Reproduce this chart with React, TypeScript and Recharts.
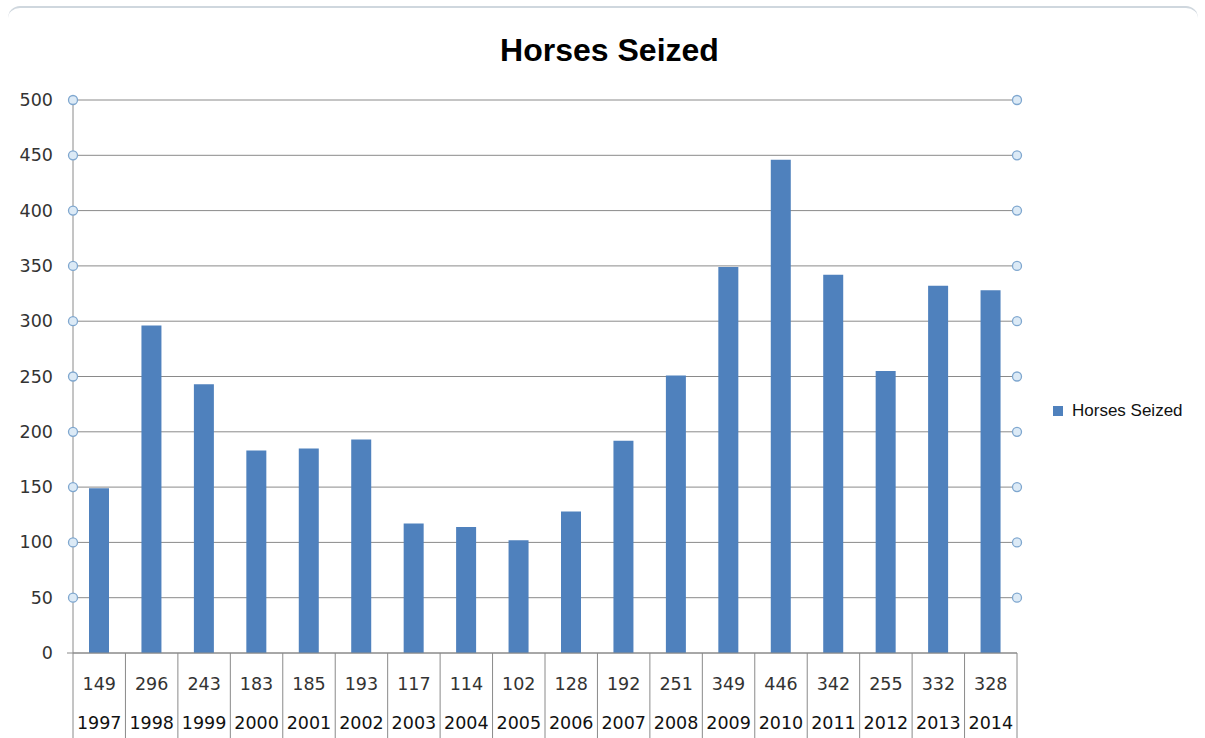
import { Bar, BarChart, CartesianGrid, XAxis, YAxis } from "recharts";

const years = ["1997", "1998", "1999", "2000", "2001", "2002", "2003", "2004", "2005", "2006", "2007", "2008", "2009", "2010", "2011", "2012", "2013", "2014"];
const horsesSeized = [149, 296, 243, 183, 185, 193, 117, 114, 102, 128, 192, 251, 349, 446, 342, 255, 332, 328];
const yTicks = [0, 50, 100, 150, 200, 250, 300, 350, 400, 450, 500];

const data = years.map((year, i) => ({ year, value: horsesSeized[i] }));

const PLOT_LEFT = 73;
const PLOT_RIGHT = 1017;
const CELL = (PLOT_RIGHT - PLOT_LEFT) / years.length;
const BLUE = "#4F81BD";
const GRID = "#8a8a8a";
const FONT = "'DejaVu Sans', sans-serif";

function Marker({ cx, cy }: { cx: number; cy: number }) {
  return <circle cx={cx} cy={cy} r={4.5} fill="#dceaf6" stroke="#7fa7cf" strokeWidth={1.3} />;
}

// left axis label + the little circles at both ends of each gridline
function LeftTick({ x, y, payload }: any) {
  return (
    <g>
      <text x={x - 20} y={y + 6} textAnchor="end" fontFamily={FONT} fontSize={17.5} fill="#333">
        {payload.value}
      </text>
      {payload.value === 0 ? (
        <line x1={x - 6} x2={x} y1={y} y2={y} stroke={GRID} />
      ) : (
        <>
          <Marker cx={x} cy={y} />
          <Marker cx={x + (PLOT_RIGHT - PLOT_LEFT)} cy={y} />
        </>
      )}
    </g>
  );
}

function TableTick({ x, y, payload, index }: any) {
  const left = x - CELL / 2;
  return (
    <g>
      <line x1={left} x2={left} y1={y} y2={y + 85} stroke={GRID} />
      {index === years.length - 1 && (
        <line x1={x + CELL / 2} x2={x + CELL / 2} y1={y} y2={y + 85} stroke={GRID} />
      )}
      <text x={x} y={y + 37} textAnchor="middle" fontFamily={FONT} fontSize={17.5} fill="#333">
        {horsesSeized[index]}
      </text>
      <text x={x} y={y + 76} textAnchor="middle" fontFamily={FONT} fontSize={17.5} fill="#111">
        {payload.value}
      </text>
    </g>
  );
}

export default function App() {
  return (
    <div style={{ position: "absolute", left: 0, top: 0, width: 1205, height: 738, background: "#fff", overflow: "hidden" }}>
      <div
        style={{
          position: "absolute",
          left: 8,
          top: 6,
          width: 1190,
          height: 40,
          borderTop: "2px solid #cfd7de",
          borderRadius: "12px 12px 0 0",
        }}
      />
      <div
        style={{
          position: "absolute",
          left: 0,
          width: 1219,
          top: 32,
          textAlign: "center",
          fontFamily: "'Liberation Sans', Arial, sans-serif",
          fontWeight: "bold",
          fontSize: 32,
          color: "#000",
        }}
      >
        Horses Seized
      </div>
      <div
        style={{
          position: "absolute",
          left: 1053,
          top: 401,
          display: "flex",
          alignItems: "center",
          fontFamily: "'Liberation Sans', Arial, sans-serif",
          fontSize: 17,
          color: "#111",
        }}
      >
        <span style={{ display: "inline-block", width: 10, height: 10, background: BLUE, marginRight: 9 }} />
        Horses Seized
      </div>
      <BarChart
        width={1205}
        height={738}
        data={data}
        margin={{ top: 100, right: 188, left: 13, bottom: 0 }}
        barSize={20}
        style={{ position: "absolute", left: 0, top: 0 }}
      >
        <CartesianGrid vertical={false} stroke={GRID} yAxisId="left" />
        <XAxis
          dataKey="year"
          height={85}
          interval={0}
          tickLine={false}
          tickSize={0}
          tickMargin={0}
          axisLine={{ stroke: GRID }}
          tick={<TableTick />}
        />
        <YAxis
          yAxisId="left"
          width={60}
          domain={[0, 500]}
          ticks={yTicks}
          tickLine={false}
          tickSize={0}
          tickMargin={0}
          axisLine={{ stroke: GRID }}
          tick={<LeftTick />}
        />
        <Bar yAxisId="left" dataKey="value" name="Horses Seized" fill={BLUE} isAnimationActive={false} />
      </BarChart>
    </div>
  );
}
